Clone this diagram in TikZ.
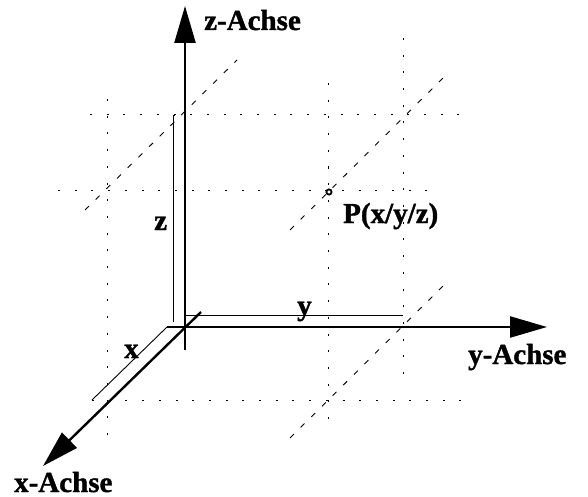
\documentclass[tikz,border=0pt]{standalone}
\usepackage{fontspec}
\setmainfont{Liberation Serif}[BoldFeatures={FakeBold=1.2}]
\usetikzlibrary{arrows.meta}

\tikzset{
  axis/.style={line width=2.4pt, -{Triangle[length=37pt,width=21pt]}},
  measure/.style={line width=0.9pt},
  gridline/.style={line width=1pt, dash pattern=on 2pt off 14.7pt},
  depthline/.style={line width=0.9pt, dash pattern=on 5.5pt off 9.5pt},
  lbl/.style={font=\fontsize{29}{29}\selectfont\bfseries, inner sep=0pt, anchor=base west},
}

\begin{document}
\begin{tikzpicture}[x=1pt,y=-1pt]
  \useasboundingbox (0,0) rectangle (588,497);

  % 1. Points of the box
  \coordinate (O)  at (185,327);
  \coordinate (Px) at (107,400);
  \coordinate (Py) at (403,327);
  \coordinate (Pz) at (185,115);
  \coordinate (Pxz) at (107,190);
  \coordinate (Pyz) at (403,115);
  \coordinate (Pxy) at (328,400);
  \coordinate (P)  at (329,192);

  % 2. Dotted grid lines
  \draw[gridline] (90,115) -- (462,115);
  \draw[gridline] (58,190) -- (428,190);
  \draw[gridline] (92,400) -- (462,400);
  \draw[gridline] (107,99) -- (107,437);
  \draw[gridline] (328,83) -- (328,422);
  \draw[gridline] (403,38) -- (403,377);

  % 3. Dashed depth lines
  \draw[depthline] (85,210) -- (237,60);
  \draw[depthline] (290,230) -- (443,78);
  \draw[depthline] (290,438) -- (443,286);

  % 4. Axes
  \coordinate (xs) at (201,312);
  \coordinate (xe) at (43,466);
  \coordinate (ys) at (167,327);
  \coordinate (ye) at (547,327);
  \coordinate (zs) at (185,350);
  \coordinate (ze) at (185,6);
  \draw[axis] (xs) -- (xe);
  \draw[axis] (ys) -- (ye);
  \draw[axis] (zs) -- (ze);

  % 5. Measure lines for x, y, z
  \draw[measure] (ys) -- (92,400);
  \draw[measure] (186,315) -- (403,315);
  \draw[measure] (173,322) -- (173,115) -- (175,115);

  % 6. The point
  \draw[line width=1.8pt] (P) circle (2.6pt);

  % 7. Labels
  \node[lbl] (zlab) at (204,30) {z-Achse};
  \node[lbl] (ylab) at (468,364) {y-Achse};
  \node[lbl] (xlab) at (14,492) {x-Achse};
  \node[lbl] (plab) at (343,223) {P(x/y/z)};
  \node[lbl] (zval) at (154,230) {z};
  \node[lbl] (yval) at (297,315) {y};
  \node[lbl] (xval) at (124,358) {x};
\end{tikzpicture}
\end{document}
